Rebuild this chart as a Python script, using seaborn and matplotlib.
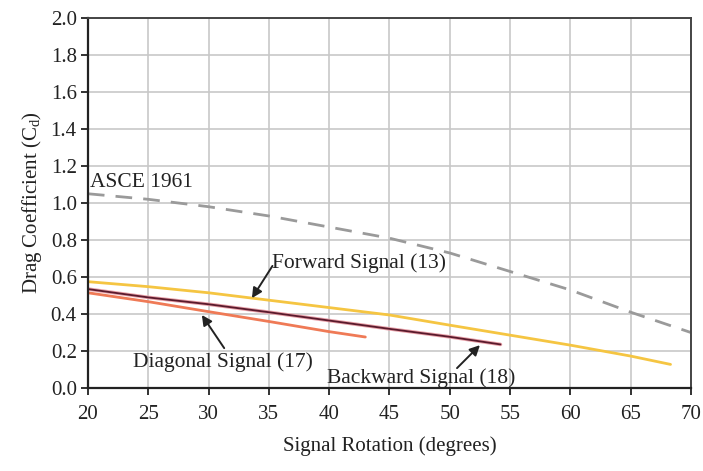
import matplotlib
matplotlib.use("Agg")
import matplotlib.pyplot as plt
import seaborn as sns
import pandas as pd

# Data
asce_x = [20, 25, 30, 35, 40, 45, 50, 55, 60, 65, 70]
asce_y = [1.05, 1.02, 0.98, 0.93, 0.87, 0.81, 0.73, 0.63, 0.53, 0.41, 0.30]

forward_x = [20, 25, 30, 35, 40, 45, 50, 55, 60, 65, 68.3]
forward_y = [0.575, 0.548, 0.515, 0.475, 0.435, 0.395, 0.34, 0.286, 0.232, 0.173, 0.128]

backward_x = [20, 25, 30, 35, 40, 45, 50, 54.2]
backward_y = [0.535, 0.49, 0.453, 0.41, 0.365, 0.32, 0.277, 0.236]

diagonal_x = [20, 25, 30, 35, 40, 43]
diagonal_y = [0.515, 0.467, 0.413, 0.36, 0.305, 0.276]

x_ticks = [20, 25, 30, 35, 40, 45, 50, 55, 60, 65, 70]
y_ticks = [0.0, 0.2, 0.4, 0.6, 0.8, 1.0, 1.2, 1.4, 1.6, 1.8, 2.0]

sns.set_theme(style="white")
plt.rcParams['font.family'] = ['Liberation Serif', 'DejaVu Serif']
plt.rcParams['mathtext.fontset'] = 'custom'
plt.rcParams['mathtext.rm'] = 'Liberation Serif'
plt.rcParams['mathtext.it'] = 'Liberation Serif:italic'

fig, ax = plt.subplots(figsize=(7.03, 4.71), dpi=100)
fig.subplots_adjust(left=0.125, right=0.983, top=0.962, bottom=0.176)

ax.grid(True, color="#c8c8c8", linewidth=1.2)
ax.set_axisbelow(True)

df_a = pd.DataFrame({"x": asce_x, "y": asce_y})
df_f = pd.DataFrame({"x": forward_x, "y": forward_y})
df_b = pd.DataFrame({"x": backward_x, "y": backward_y})
df_d = pd.DataFrame({"x": diagonal_x, "y": diagonal_y})

sns.lineplot(data=df_a, x="x", y="y", ax=ax, color="#9a9a9a", linewidth=2.0,
             dashes=False, linestyle=(0, (6, 4)))
sns.lineplot(data=df_f, x="x", y="y", ax=ax, color="#f5c542", linewidth=2.0)
sns.lineplot(data=df_b, x="x", y="y", ax=ax, color="#e8a0a8", linewidth=2.6)
sns.lineplot(data=df_b, x="x", y="y", ax=ax, color="#5a1a2c", linewidth=1.3)
sns.lineplot(data=df_d, x="x", y="y", ax=ax, color="#ef7a56", linewidth=2.0)

ax.set_xlim(20, 70)
ax.set_ylim(0, 2.0)
ax.set_xticks(x_ticks)
ax.set_yticks(y_ticks)
ax.set_yticklabels([f"{v:.1f}" for v in y_ticks])
ax.tick_params(axis="both", direction="out", length=5, width=1.3, labelsize=15,
               colors="#222222", bottom=True, left=True, pad=3)
ax.tick_params(axis="x", pad=7)

for side in ["left", "bottom"]:
    ax.spines[side].set_color("#222222")
    ax.spines[side].set_linewidth(1.6)
for side in ["top", "right"]:
    ax.spines[side].set_color("#444444")
    ax.spines[side].set_linewidth(1.4)

ax.set_xlabel("Signal Rotation (degrees)", fontsize=15, labelpad=9, color="#222222")
ax.set_ylabel("Drag Coefficient (C$_{\\rm d}$)", fontsize=15, labelpad=5, color="#222222")

txt_kw = dict(fontsize=15.5, color="#222222")
arrow = dict(arrowstyle="-|>", color="#222222", lw=1.4, mutation_scale=15,
             shrinkA=0, shrinkB=0)

ax.text(20.2, 1.11, "ASCE 1961", ha="left", va="center", **txt_kw)

ax.text(35.3, 0.676, "Forward Signal (13)", ha="left", va="center", **txt_kw)
ax.annotate("", xy=(33.6, 0.486), xytext=(35.3, 0.66), arrowprops=arrow)

ax.text(31.2, 0.14, "Diagonal Signal (17)", ha="center", va="center", **txt_kw)
ax.annotate("", xy=(29.45, 0.395), xytext=(31.3, 0.216), arrowprops=arrow)

ax.text(47.6, 0.054, "Backward Signal (18)", ha="center", va="center", **txt_kw)
ax.annotate("", xy=(52.5, 0.232), xytext=(50.6, 0.108), arrowprops=arrow)

fig.savefig("out.png", dpi=100)
